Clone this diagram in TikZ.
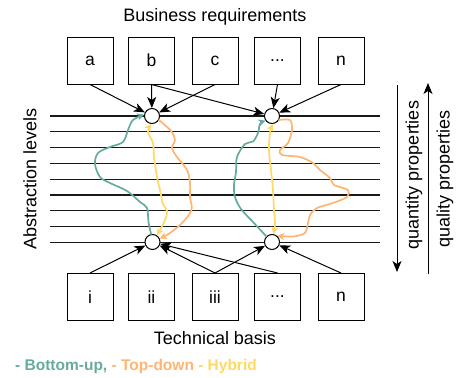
\documentclass[tikz,border=0pt]{standalone}
\usepackage{fontspec}
\setmainfont{Liberation Sans}
\usetikzlibrary{arrows.meta}
\definecolor{bup}{HTML}{67AB9F}
\definecolor{tdown}{HTML}{FFB570}
\definecolor{hyb}{HTML}{FFD966}
\tikzset{
  box/.style={draw, line width=1pt, minimum width=46pt, minimum height=47pt, inner sep=0pt, font=\fontsize{17.5}{20}\selectfont},
  hub/.style={draw, circle, line width=1pt, fill=white, minimum size=15pt, inner sep=0pt},
  level/.style={line width=1.1pt, black!90},
  feed/.style={line width=1pt, -{Stealth[length=11pt, width=9pt, inset=3pt]}},
  flow/.style={line width=1.7pt, line cap=round, line join=round},
  tip/.style={-{Stealth[length=7pt, width=7pt, inset=2pt]}},
  dtip/.style={{Stealth[length=7pt, width=7pt, inset=2pt]}-{Stealth[length=7pt, width=7pt, inset=2pt]}},
  lbl/.style={font=\fontsize{18}{21}\selectfont},
}
\begin{document}
\begin{tikzpicture}[x=1pt, y=-1pt]
\useasboundingbox (0,0) rectangle (456,378);

% abstraction levels
\foreach \k in {0,...,8} {
  \draw[level] (50,{116+15.8*\k}) -- (380,{116+15.8*\k});
}

% business requirements
\node[lbl] (brq) at (215,17) {Business requirements};
\node[box] (a)  at (90,60.5)  {a};
\node[box] (b)  at (151.5,60.5) {b};
\node[box] (c)  at (215,60.5) {c};
\node[box] (d)  at (277.5,60.5) {...};
\node[box] (n)  at (341,60.5) {n};

% technical basis
\node[box] (i)   at (90,297)  {i};
\node[box] (ii)  at (151.5,297) {ii};
\node[box] (iii) at (215,297) {iii};
\node[box] (dd)  at (277.5,297) {...};
\node[box] (nn)  at (341,297) {n};
\node[lbl] (tb) at (215,338) {Technical basis};

% hubs
\node[hub] (tl) at (152,116) {};
\node[hub] (tr) at (272,116) {};
\node[hub] (bl) at (152.5,242) {};
\node[hub] (br) at (272,242) {};

% feeds into the hubs
\draw[feed] (a.south) -- (tl);
\draw[feed] (b.south) -- (tl);
\draw[feed] (c.south) -- (tl);
\draw[feed] (b.south) -- (tr);
\draw[feed] (d.south) -- (tr);
\draw[feed] (n.south) -- (tr);

\draw[feed] (i.north) -- (bl);
\draw[feed] (iii.north) -- (bl);
\draw[feed] (dd.north) -- (bl);
\draw[feed] (iii.north) -- (br);
\draw[feed] (nn.north) -- (br);

% bottom-up paths
\draw[flow, bup, tip] plot[smooth, tension=0.55] coordinates {
  (bl.100) (148.5,222) (147,208) (140,202) (127,191) (110,183) (100,177)
  (95,164) (98,153) (110,147) (123,142) (128,130) (133,120) (tl.170)};
\draw[flow, bup, tip] plot[smooth, tension=0.55] coordinates {
  (br.135) (253,222) (241,209) (235,197) (234,185) (236,172) (237,157)
  (245,144) (253,141.5) (258,133) (260,124) (tr.215)};

% top-down paths
\draw[flow, tdown, tip] plot[smooth, tension=0.55] coordinates {
  (tl.-30) (171,131) (175,140) (172,148) (177,157) (187,170) (190,183)
  (190,197) (191.5,210) (182,223) (170,233) (bl.25)};
\draw[flow, tdown, tip] plot[smooth, tension=0.5] coordinates {
  (tr.-30) (290,120) (292,130) (288,143) (280,150) (282,155) (300,157)
  (313,163) (320,170) (330,178) (334,185) (348,190) (347,197) (333,203)
  (317,208) (310,215) (308,223) (305,233) (293,236.5) (br.50)};

% hybrid paths
\draw[flow, hyb, dtip] plot[smooth, tension=0.55] coordinates {
  (tl.-95) (148,132) (153,143) (154,157) (157,177) (160,190) (163,204)
  (167,211) (165,220) (bl.55)};
\draw[flow, hyb, dtip] plot[smooth, tension=0.55] coordinates {
  (tr.-85) (270,133) (269,150) (271,170) (273,190) (274,210) (275,223) (br.80)};

% side annotations
\node[lbl, rotate=90] (abs) at (30,179) {Abstraction levels};

\coordinate (qnt1) at (397,85);
\coordinate (qnt2) at (397,272);
\coordinate (qal1) at (428,274);
\coordinate (qal2) at (428,83);
\draw[feed] (qnt1) -- (qnt2);
\draw[feed] (qal1) -- (qal2);
\node[lbl, rotate=90] (qty) at (414,175) {quantity properties};
\node[lbl, rotate=90] (qly) at (445,179) {quality properties};

% legend
\node[anchor=west, inner sep=0pt, font=\fontsize{15.5}{18}\selectfont\bfseries] (leg) at (15,366)
  {\textcolor{bup}{- Bottom-up,} \textcolor{tdown}{- Top-down} \textcolor{hyb}{- Hybrid}};
\end{tikzpicture}
\end{document}
